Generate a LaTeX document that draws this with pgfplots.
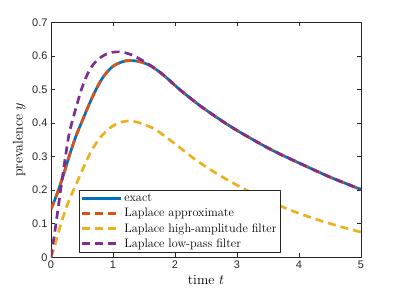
\documentclass[border=0pt]{standalone}
\usepackage{pgfplots}
\pgfplotsset{compat=1.18}
\usepackage{fontspec}
\newfontfamily\tickfont{Liberation Sans}
\definecolor{mblue}{rgb}{0,0.447,0.741}
\definecolor{morange}{rgb}{0.850,0.325,0.098}
\definecolor{myellow}{rgb}{0.929,0.694,0.125}
\definecolor{mpurple}{rgb}{0.494,0.184,0.556}
\definecolor{axgray}{rgb}{0.15,0.15,0.15}
\begin{document}
\begin{tikzpicture}
\useasboundingbox (-51bp,-41.7bp) rectangle (348bp,257.3bp);
\begin{axis}[
  at={(0,0)}, anchor=south west,
  scale only axis, width=310bp, height=235bp,
  xmin=0, xmax=5, ymin=0, ymax=0.7,
  xtick={0,1,2,3,4,5}, ytick={0,0.1,0.2,0.3,0.4,0.5,0.6,0.7},
  yticklabel style={/pgf/number format/fixed, /pgf/number format/precision=1, /pgf/number format/fixed zerofill=false},
  scaled y ticks=false,
  /pgf/number format/assume math mode=true,
  tick label style={font=\fontsize{11}{13}\selectfont\tickfont, text=axgray},
  tick align=inside, tick pos=both,
  major tick length=4bp,
  axis line style={axgray, line width=0.5pt},
  every tick/.style={axgray, line width=0.5pt},
  xlabel={time $t$}, ylabel={prevalence $y$},
  label style={font=\fontsize{14}{16}\selectfont},
  legend style={at={(0.09,0.02)}, anchor=south west, draw=axgray, line width=0.5pt,
    font=\fontsize{12.3}{13}\selectfont, row sep=1.2pt, inner sep=1.5pt, fill=white},
  legend cell align=left,
  legend image code/.code={\draw[#1] (0bp,0bp) -- (39bp,0bp);},
  line join=round,
]
\addplot[mblue, line width=2.7bp, smooth] coordinates {
(0,0.143) (0.1,0.190) (0.2,0.245) (0.3,0.305) (0.4,0.360) (0.5,0.405) (0.6,0.449) (0.7,0.490) (0.8,0.525) (0.9,0.551) (1.0,0.569) (1.1,0.579) (1.2,0.585) (1.3,0.586) (1.4,0.584) (1.5,0.579) (1.6,0.571) (1.7,0.559) (1.8,0.545) (1.9,0.529) (2.0,0.512) (2.1,0.496) (2.2,0.481) (2.4,0.452) (2.6,0.426) (2.8,0.401) (3.0,0.378) (3.3,0.346) (3.6,0.316) (4.0,0.281) (4.5,0.239) (5.0,0.202)};
\addlegendentry{exact}
\addplot[morange, line width=2.7bp, smooth, dash pattern=on 8bp off 5bp] coordinates {
(0,0.143) (0.1,0.190) (0.2,0.245) (0.3,0.305) (0.4,0.360) (0.5,0.405) (0.6,0.449) (0.7,0.490) (0.8,0.525) (0.9,0.551) (1.0,0.569) (1.1,0.579) (1.2,0.585) (1.3,0.586) (1.4,0.584) (1.5,0.579) (1.6,0.571) (1.7,0.559) (1.8,0.545) (1.9,0.529) (2.0,0.512) (2.1,0.496) (2.2,0.481) (2.4,0.452) (2.6,0.426) (2.8,0.401) (3.0,0.378) (3.3,0.346) (3.6,0.316) (4.0,0.281) (4.5,0.239) (5.0,0.202)};
\addlegendentry{Laplace approximate}
\addplot[myellow, line width=2.7bp, smooth, dash pattern=on 8bp off 5bp] coordinates {
(0,0.0) (0.05,0.028) (0.15,0.093) (0.25,0.15) (0.35,0.195) (0.44,0.232) (0.55,0.278) (0.66,0.32) (0.8,0.358) (0.95,0.385) (1.1,0.401) (1.25,0.406) (1.4,0.402) (1.55,0.392) (1.7,0.379) (2.0,0.338) (2.3,0.295) (2.65,0.252) (3.0,0.215) (3.4,0.178) (3.8,0.145) (4.2,0.118) (4.6,0.095) (5.0,0.075)};
\addlegendentry{Laplace high-amplitude filter}
\addplot[mpurple, line width=2.7bp, smooth, dash pattern=on 8bp off 5bp] coordinates {
(0,0.0) (0.065,0.081) (0.118,0.15) (0.17,0.22) (0.25,0.32) (0.306,0.379) (0.44,0.469) (0.52,0.515) (0.6,0.550) (0.68,0.574) (0.79,0.594) (0.9,0.606) (1.0,0.611) (1.1,0.612) (1.2,0.609) (1.3,0.603) (1.45,0.589) (1.6,0.572) (1.7,0.559) (1.8,0.545) (1.9,0.529) (2.0,0.512) (2.1,0.496) (2.2,0.481) (2.4,0.452) (2.6,0.426) (2.8,0.401) (3.0,0.378) (3.3,0.346) (3.6,0.316) (4.0,0.281) (4.5,0.239) (5.0,0.202)};
\addlegendentry{Laplace low-pass filter}
\end{axis}
\end{tikzpicture}
\end{document}
